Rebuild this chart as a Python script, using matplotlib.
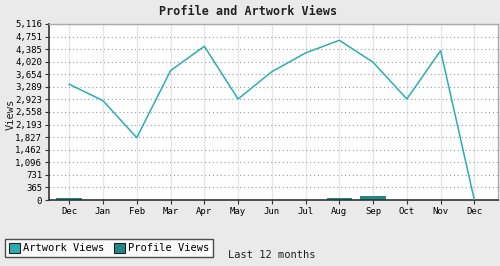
import matplotlib.pyplot as plt
import numpy as np
from matplotlib.patches import Patch

# Data
months = ['Dec', 'Jan', 'Feb', 'Mar', 'Apr', 'May', 'Jun', 'Jul', 'Aug', 'Sep', 'Oct', 'Nov', 'Dec']
artwork_views = [3363, 2886, 1811, 3758, 4467, 2936, 3729, 4273, 4642, 4002, 2936, 4340, 0]
profile_views = [45, 0, 0, 0, 0, 0, 0, 0, 45, 110, 0, 0, 0]
yticks = [0, 365, 731, 1096, 1462, 1827, 2193, 2558, 2923, 3289, 3654, 4020, 4385, 4751, 5116]

line_col = '#2aafb0'
bar_col = '#1f8985'
bg = '#eaeaea'

plt.rcParams['font.family'] = ['DejaVu Sans Mono']

fig = plt.figure(figsize=(5, 2.66), dpi=100, facecolor=bg)
ax = fig.add_axes([0.098, 0.248, 0.898, 0.662])
x = np.arange(len(months))

ax.bar(x, profile_views, width=0.76, color=bar_col, zorder=2)
ax.plot(x, artwork_views, color=line_col, lw=1.1, zorder=3)

ax.set_xlim(-0.6, 12.7)
ax.set_ylim(0, 5116)
ax.set_xticks(x)
ax.set_xticklabels(months, fontsize=6.5)
ax.set_yticks(yticks)
ax.set_yticklabels([f'{v:,}' for v in yticks], fontsize=6.5)
ax.tick_params(length=3, width=0.8, color='#333333', pad=2)

ax.grid(axis='y', linestyle=(0, (1, 2.5)), color='#999999', lw=0.8, zorder=1)
ax.grid(axis='x', linestyle='-', color='#e6e6e6', lw=1, zorder=1)
ax.set_axisbelow(True)

for s in ['left', 'bottom']:
    ax.spines[s].set_color('#333333')
    ax.spines[s].set_linewidth(1.2)
for s in ['top', 'right']:
    ax.spines[s].set_color('#aaaaaa')
    ax.spines[s].set_linewidth(1)

fig.text(0.496, 0.955, 'Profile and Artwork Views', ha='center', va='center',
         fontsize=8.5, fontweight='bold', color='#222222')
fig.text(0.022, 0.57, 'Views', rotation=90, ha='center', va='center', fontsize=7.5, color='#222222')
fig.text(0.544, 0.04, 'Last 12 months', ha='center', va='center', fontsize=7.5, color='#222222')

handles = [Patch(facecolor=line_col, edgecolor='#222222', lw=0.8, label='Artwork Views'),
           Patch(facecolor=bar_col, edgecolor='#222222', lw=0.8, label='Profile Views')]
leg = fig.legend(handles=handles, loc='lower left', bbox_to_anchor=(0.01, 0.035), ncol=2,
                 fontsize=7.5, frameon=True, fancybox=False, handlelength=1.1, handleheight=1.1,
                 handletextpad=0.3, columnspacing=0.9, borderpad=0.35, borderaxespad=0)
leg.get_frame().set_edgecolor('#222222')
leg.get_frame().set_linewidth(1)

plt.savefig('out.png', dpi=100, facecolor=bg)
